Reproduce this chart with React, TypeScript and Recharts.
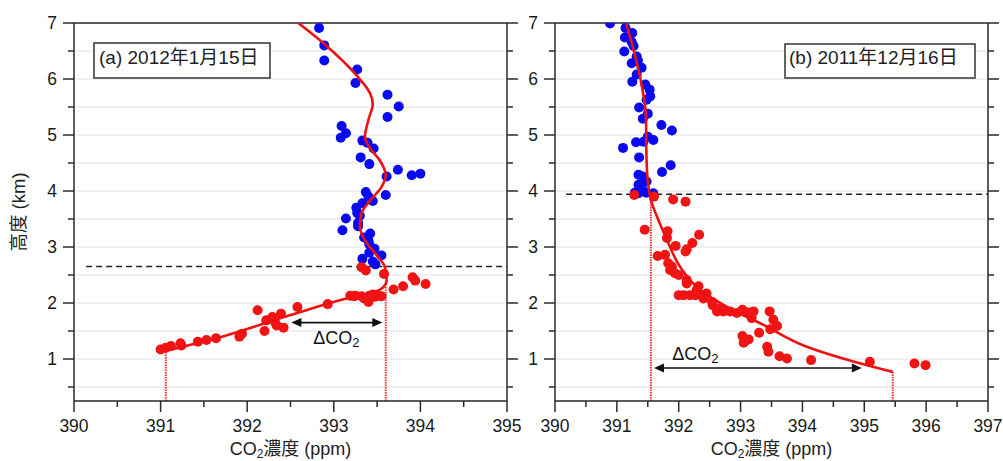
import React from 'react';
import { ComposedChart, Scatter, XAxis, YAxis, CartesianGrid, ReferenceLine, ReferenceDot } from 'recharts';

const FONT = '"Liberation Sans", Arial, "Noto Sans CJK JP", sans-serif';
const BLUE = '#0a0af0';
const RED = '#f01414';
const INK = '#2a2a2a';

// tick values
const heightTicks = [0.5, 1, 1.5, 2, 2.5, 3, 3.5, 4, 4.5, 5, 5.5, 6, 6.5, 7];
const concTicksA = [390, 390.5, 391, 391.5, 392, 392.5, 393, 393.5, 394, 394.5, 395];
const concTicksB = [390, 390.5, 391, 391.5, 392, 392.5, 393, 393.5, 394, 394.5, 395, 395.5, 396, 396.5, 397];

// (a) 2012-01-15
const freeTropA = [
  { x: 392.83, y: 6.91 }, { x: 392.89, y: 6.6 }, { x: 392.89, y: 6.33 }, { x: 393.27, y: 6.17 },
  { x: 393.25, y: 5.93 }, { x: 393.62, y: 5.72 }, { x: 393.75, y: 5.51 }, { x: 393.62, y: 5.32 },
  { x: 393.09, y: 5.16 }, { x: 393.14, y: 5.03 }, { x: 393.08, y: 4.95 }, { x: 393.33, y: 4.9 },
  { x: 393.39, y: 4.86 }, { x: 393.46, y: 4.76 }, { x: 393.31, y: 4.6 }, { x: 393.41, y: 4.48 },
  { x: 393.74, y: 4.38 }, { x: 393.61, y: 4.26 }, { x: 393.9, y: 4.28 }, { x: 394.0, y: 4.31 },
  { x: 393.37, y: 3.98 }, { x: 393.4, y: 3.9 }, { x: 393.6, y: 3.93 }, { x: 393.45, y: 3.82 },
  { x: 393.33, y: 3.78 }, { x: 393.26, y: 3.7 }, { x: 393.27, y: 3.61 }, { x: 393.3, y: 3.56 },
  { x: 393.14, y: 3.51 }, { x: 393.28, y: 3.43 }, { x: 393.28, y: 3.37 }, { x: 393.1, y: 3.3 },
  { x: 393.42, y: 3.24 }, { x: 393.35, y: 3.17 }, { x: 393.4, y: 3.12 }, { x: 393.41, y: 3.05 },
  { x: 393.47, y: 2.97 }, { x: 393.41, y: 2.9 }, { x: 393.55, y: 2.85 }, { x: 393.33, y: 2.79 },
  { x: 393.45, y: 2.74 }, { x: 393.48, y: 2.69 },
];
const boundaryLayerA = [
  { x: 393.32, y: 2.64 }, { x: 393.37, y: 2.58 }, { x: 393.58, y: 2.52 }, { x: 393.91, y: 2.46 },
  { x: 393.94, y: 2.4 }, { x: 394.06, y: 2.34 }, { x: 393.8, y: 2.3 }, { x: 393.69, y: 2.24 },
  { x: 393.19, y: 2.13 }, { x: 393.25, y: 2.13 }, { x: 393.32, y: 2.12 }, { x: 393.37, y: 2.09 },
  { x: 393.41, y: 2.13 }, { x: 393.45, y: 2.15 }, { x: 393.51, y: 2.13 }, { x: 393.55, y: 2.12 },
  { x: 393.35, y: 2.08 }, { x: 393.4, y: 2.02 }, { x: 393.23, y: 2.12 }, { x: 393.47, y: 2.11 },
  { x: 392.93, y: 1.98 }, { x: 392.58, y: 1.93 }, { x: 392.12, y: 1.87 }, { x: 392.39, y: 1.81 },
  { x: 392.29, y: 1.75 }, { x: 392.22, y: 1.69 }, { x: 392.32, y: 1.66 }, { x: 392.34, y: 1.6 },
  { x: 392.42, y: 1.56 }, { x: 392.2, y: 1.5 }, { x: 391.94, y: 1.45 }, { x: 391.91, y: 1.4 },
  { x: 391.64, y: 1.37 }, { x: 391.53, y: 1.34 }, { x: 391.43, y: 1.31 }, { x: 391.23, y: 1.28 },
  { x: 391.24, y: 1.24 }, { x: 391.12, y: 1.23 }, { x: 391.06, y: 1.2 }, { x: 391.0, y: 1.17 },
];
const fitA = [
  { x: 391.07, y: 1.15 }, { x: 391.69, y: 1.39 }, { x: 392.49, y: 1.78 }, { x: 393.23, y: 2.11 },
  { x: 393.46, y: 2.19 }, { x: 393.57, y: 2.28 }, { x: 393.61, y: 2.4 }, { x: 393.59, y: 2.64 },
  { x: 393.48, y: 2.88 }, { x: 393.36, y: 3.12 }, { x: 393.3, y: 3.36 }, { x: 393.32, y: 3.6 },
  { x: 393.42, y: 3.83 }, { x: 393.55, y: 4.07 }, { x: 393.6, y: 4.28 }, { x: 393.53, y: 4.55 },
  { x: 393.42, y: 4.76 }, { x: 393.36, y: 4.97 }, { x: 393.4, y: 5.27 }, { x: 393.45, y: 5.56 },
  { x: 393.42, y: 5.74 }, { x: 393.26, y: 6.07 }, { x: 392.88, y: 6.64 }, { x: 392.59, y: 7.0 },
];
const topA = 2.65;
const dropsA = [{ x: 391.06, y: 1.17 }, { x: 393.6, y: 2.29 }];
const deltaA = { from: 393.56, to: 392.51, y: 1.65 };
const deltaLabelA = { x: 393.03, y: 1.27 };

// (b) 2011-12-16
const freeTropB = [
  { x: 390.89, y: 6.99 }, { x: 391.14, y: 6.91 }, { x: 391.25, y: 6.82 }, { x: 391.13, y: 6.74 },
  { x: 391.24, y: 6.66 }, { x: 391.27, y: 6.59 }, { x: 391.12, y: 6.49 }, { x: 391.32, y: 6.4 },
  { x: 391.34, y: 6.33 }, { x: 391.24, y: 6.28 }, { x: 391.4, y: 6.2 }, { x: 391.32, y: 6.08 },
  { x: 391.25, y: 5.95 }, { x: 391.46, y: 5.9 }, { x: 391.53, y: 5.81 }, { x: 391.54, y: 5.69 },
  { x: 391.48, y: 5.63 }, { x: 391.36, y: 5.49 }, { x: 391.5, y: 5.38 }, { x: 391.42, y: 5.29 },
  { x: 391.72, y: 5.18 }, { x: 391.89, y: 5.08 }, { x: 391.5, y: 4.97 }, { x: 391.59, y: 4.91 },
  { x: 391.31, y: 4.87 }, { x: 391.43, y: 4.88 }, { x: 391.1, y: 4.77 }, { x: 391.36, y: 4.6 },
  { x: 391.87, y: 4.46 }, { x: 391.73, y: 4.34 }, { x: 391.35, y: 4.29 }, { x: 391.42, y: 4.26 },
  { x: 391.48, y: 4.17 }, { x: 391.35, y: 4.11 }, { x: 391.39, y: 4.05 }, { x: 391.43, y: 4.0 },
  { x: 391.29, y: 3.97 }, { x: 391.59, y: 3.96 }, { x: 391.48, y: 3.97 }, { x: 391.35, y: 3.96 },
];
const boundaryLayerB = [
  { x: 391.28, y: 3.93 }, { x: 391.6, y: 3.9 }, { x: 391.91, y: 3.85 }, { x: 392.11, y: 3.81 },
  { x: 391.45, y: 3.31 }, { x: 391.82, y: 3.28 }, { x: 392.33, y: 3.22 }, { x: 391.81, y: 3.16 },
  { x: 392.22, y: 3.07 }, { x: 391.95, y: 3.02 }, { x: 392.13, y: 2.96 }, { x: 392.11, y: 2.92 },
  { x: 391.66, y: 2.84 }, { x: 391.78, y: 2.86 }, { x: 391.83, y: 2.71 }, { x: 391.89, y: 2.65 },
  { x: 391.86, y: 2.59 }, { x: 391.94, y: 2.53 }, { x: 392.0, y: 2.5 }, { x: 392.13, y: 2.41 },
  { x: 392.13, y: 2.35 }, { x: 392.32, y: 2.3 }, { x: 392.29, y: 2.23 }, { x: 392.0, y: 2.14 },
  { x: 392.08, y: 2.14 }, { x: 392.18, y: 2.14 }, { x: 392.27, y: 2.14 }, { x: 392.4, y: 2.14 },
  { x: 392.45, y: 2.17 }, { x: 392.4, y: 2.08 }, { x: 392.54, y: 2.02 }, { x: 392.55, y: 1.96 },
  { x: 392.67, y: 1.9 }, { x: 392.62, y: 1.85 }, { x: 392.72, y: 1.85 }, { x: 392.83, y: 1.85 },
  { x: 392.94, y: 1.82 }, { x: 393.03, y: 1.88 }, { x: 393.13, y: 1.83 }, { x: 393.21, y: 1.85 },
  { x: 393.18, y: 1.73 }, { x: 393.47, y: 1.85 }, { x: 393.53, y: 1.7 }, { x: 393.59, y: 1.59 },
  { x: 393.48, y: 1.53 }, { x: 393.3, y: 1.47 }, { x: 393.03, y: 1.41 }, { x: 393.13, y: 1.35 },
  { x: 393.05, y: 1.29 }, { x: 393.43, y: 1.22 }, { x: 393.45, y: 1.13 }, { x: 393.63, y: 1.05 },
  { x: 393.75, y: 1.01 }, { x: 394.14, y: 0.98 }, { x: 395.09, y: 0.95 }, { x: 395.81, y: 0.92 },
  { x: 395.99, y: 0.89 },
];
const fitB = [
  { x: 395.46, y: 0.77 }, { x: 394.94, y: 0.92 }, { x: 394.07, y: 1.22 }, { x: 393.37, y: 1.61 },
  { x: 392.83, y: 1.9 }, { x: 392.35, y: 2.23 }, { x: 392.02, y: 2.65 }, { x: 391.81, y: 3.13 },
  { x: 391.65, y: 3.54 }, { x: 391.55, y: 3.84 }, { x: 391.51, y: 4.08 }, { x: 391.48, y: 4.56 },
  { x: 391.47, y: 5.33 }, { x: 391.4, y: 5.9 }, { x: 391.27, y: 6.52 }, { x: 391.15, y: 6.99 },
];
const topB = 3.94;
const dropsB = [{ x: 391.55, y: 3.9 }, { x: 395.46, y: 0.77 }];
const deltaB = { from: 391.6, to: 394.96, y: 0.84 };
const deltaLabelB = { x: 392.27, y: 0.98 };

const YTick = (p: any) => {
  const { x, y, payload, side } = p;
  const major = Number.isInteger(payload.value);
  const len = major ? 11 : 6;
  if (side === 'right') {
    return <line x1={x} y1={y} x2={x + len} y2={y} stroke={INK} strokeWidth={1.5} />;
  }
  return (
    <g>
      <line x1={x - len} y1={y} x2={x} y2={y} stroke={INK} strokeWidth={1.5} />
      {major && (
        <text x={x - 17} y={y} dy="0.36em" textAnchor="end" fontFamily={FONT} fontSize={17.5} fill="#1a1a1a">
          {payload.value}
        </text>
      )}
    </g>
  );
};

const XTick = (p: any) => {
  const { x, y, payload } = p;
  const major = Number.isInteger(payload.value);
  const len = major ? 11 : 6;
  return (
    <g>
      <line x1={x} y1={y} x2={x} y2={y + len} stroke={INK} strokeWidth={1.5} />
      {major && (
        <text x={x} y={y + 19} dy="0.71em" textAnchor="middle" fontFamily={FONT} fontSize={17.5} fill="#1a1a1a">
          {payload.value}
        </text>
      )}
    </g>
  );
};

const Dot = (color: string) => (p: any) => <circle cx={p.cx} cy={p.cy} r={5} fill={color} />;
const NoDot = () => <g />;

const ArrowShape = (p: any) => {
  const { x1, y1, x2 } = p;
  const head = 10;
  const half = 4.5;
  const l = Math.min(x1, x2);
  const r = Math.max(x1, x2);
  const y = y1;
  return (
    <g>
      <line x1={l + head - 1} y1={y} x2={r - head + 1} y2={y} stroke="#111" strokeWidth={1.6} />
      <polygon points={`${l},${y} ${l + head},${y - half} ${l + head},${y + half}`} fill="#111" />
      <polygon points={`${r},${y} ${r - head},${y - half} ${r - head},${y + half}`} fill="#111" />
    </g>
  );
};

const DeltaLabel = (p: any) => (
  <text x={p.cx} y={p.cy} textAnchor="middle" fontFamily={FONT} fontSize={18} fill="#111">
    ΔCO<tspan dy={3} fontSize={13}>2</tspan>
  </text>
);

interface PanelProps {
  width: number;
  marginRight: number;
  rightAxisWidth: number;
  xMax: number;
  xTicks: number[];
  free: { x: number; y: number }[];
  bl: { x: number; y: number }[];
  fit: { x: number; y: number }[];
  top: number;
  topStart: number;
  drops: { x: number; y: number }[];
  delta: { from: number; to: number; y: number };
  deltaLabel: { x: number; y: number };
}

const Panel: React.FC<PanelProps> = (d) => (
  <ComposedChart width={d.width} height={461} margin={{ top: 23, right: d.marginRight, bottom: 0, left: 0 }}>
    <CartesianGrid vertical={false} stroke="#e0e0ea" strokeWidth={1} />
    <XAxis
      type="number"
      dataKey="x"
      domain={[390, d.xMax]}
      allowDataOverflow
      ticks={d.xTicks}
      interval={0}
      height={60}
      tickSize={0}
      tickMargin={0}
      tickLine={false}
      axisLine={{ stroke: INK, strokeWidth: 1.5 }}
      tick={(p: any) => <XTick {...p} />}
    />
    <YAxis
      type="number"
      dataKey="y"
      domain={[0.25, 7]}
      allowDataOverflow
      ticks={heightTicks}
      interval={0}
      width={74}
      tickSize={0}
      tickMargin={0}
      tickLine={false}
      axisLine={{ stroke: INK, strokeWidth: 1.5 }}
      tick={(p: any) => <YTick {...p} side="left" />}
    />
    <YAxis
      yAxisId="r"
      orientation="right"
      type="number"
      dataKey="y"
      domain={[0.25, 7]}
      allowDataOverflow
      ticks={heightTicks}
      interval={0}
      width={d.rightAxisWidth}
      tickSize={0}
      tickMargin={0}
      tickLine={false}
      axisLine={{ stroke: INK, strokeWidth: 1.5 }}
      tick={(p: any) => <YTick {...p} side="right" />}
    />
    <ReferenceLine y={7} stroke={INK} strokeWidth={1.5} />
    <ReferenceLine
      segment={[{ x: d.topStart, y: d.top }, { x: d.xMax, y: d.top }]}
      stroke="#222"
      strokeWidth={1.5}
      strokeDasharray="6 4"
    />
    {d.drops.map((p, i) => (
      <ReferenceLine
        key={i}
        segment={[{ x: p.x, y: 0.25 }, { x: p.x, y: p.y }]}
        stroke="#ff3030"
        strokeWidth={2}
        strokeDasharray="1.5 1"
      />
    ))}
    <Scatter data={d.free} fill={BLUE} shape={Dot(BLUE)} isAnimationActive={false} />
    <Scatter data={d.bl} fill={RED} shape={Dot(RED)} isAnimationActive={false} />
    <Scatter
      data={d.fit}
      line={{ stroke: '#ee1111', strokeWidth: 2.6 }}
      lineJointType="monotoneY"
      shape={NoDot}
      isAnimationActive={false}
    />
    <ReferenceLine
      segment={[{ x: d.delta.from, y: d.delta.y }, { x: d.delta.to, y: d.delta.y }]}
      shape={ArrowShape}
    />
    <ReferenceDot x={d.deltaLabel.x} y={d.deltaLabel.y} r={1} shape={DeltaLabel} />
  </ComposedChart>
);

export default function App() {
  return (
    <div style={{ position: 'absolute', left: 0, top: 0, width: 1003, height: 461, background: '#fff' }}>
      <div style={{ position: 'absolute', left: 0, top: 0 }}>
        <Panel
          width={532}
          marginRight={12}
          rightAxisWidth={13}
          xMax={395}
          xTicks={concTicksA}
          free={freeTropA}
          bl={boundaryLayerA}
          fit={fitA}
          top={topA}
          topStart={390.14}
          drops={dropsA}
          delta={deltaA}
          deltaLabel={deltaLabelA}
        />
      </div>
      <div style={{ position: 'absolute', left: 481, top: 0 }}>
        <Panel
          width={522}
          marginRight={0}
          rightAxisWidth={15}
          xMax={397}
          xTicks={concTicksB}
          free={freeTropB}
          bl={boundaryLayerB}
          fit={fitB}
          top={topB}
          topStart={390.18}
          drops={dropsB}
          delta={deltaB}
          deltaLabel={deltaLabelB}
        />
      </div>
      <svg
        width={1003}
        height={461}
        style={{ position: 'absolute', left: 0, top: 0, pointerEvents: 'none' }}
        fontFamily={FONT}
      >
        <text transform="translate(25,212) rotate(-90)" textAnchor="middle" fontSize={18.5} fill="#222">
          高度 (km)
        </text>
        <text x={290.5} y={455} textAnchor="middle" fontSize={18} fill="#222">
          CO<tspan dy={3} fontSize={12}>2</tspan>
          <tspan dy={-3}>濃度 (ppm)</tspan>
        </text>
        <text x={771.5} y={455} textAnchor="middle" fontSize={18} fill="#222">
          CO<tspan dy={3} fontSize={12}>2</tspan>
          <tspan dy={-3}>濃度 (ppm)</tspan>
        </text>
        <rect x={94} y={43} width={176} height={35} fill="#fff" stroke="#333" strokeWidth={1.5} />
        <text x={99} y={64} fontSize={19} fill="#222">
          (a) 2012年1月15日
        </text>
        <rect x={785} y={44} width={190} height={34} fill="#fff" stroke="#333" strokeWidth={1.5} />
        <text x={789} y={64} fontSize={19} fill="#222">
          (b) 2011年12月16日
        </text>
      </svg>
    </div>
  );
}
